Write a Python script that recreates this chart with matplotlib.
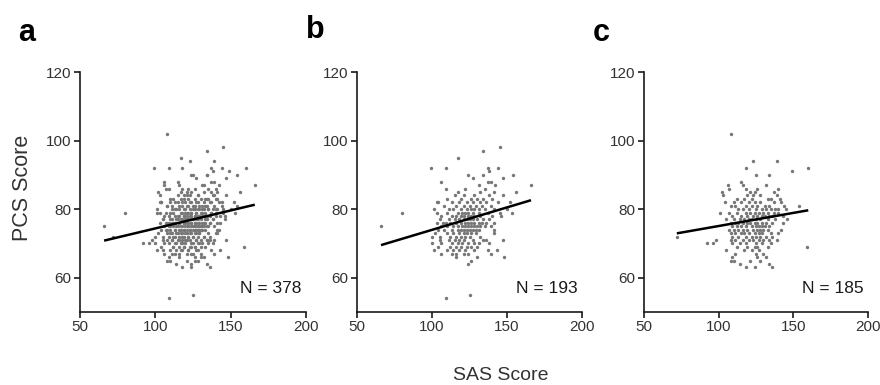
import matplotlib
matplotlib.use("Agg")
import matplotlib.pyplot as plt

plt.rcParams['font.family'] = ['Liberation Sans', 'DejaVu Sans']

# ---- data: PCS score (y) -> list of SAS scores (x) ----
rows_b = {
    98: [145], 97: [134], 95: [117], 92: [99, 109, 137, 144], 91: [138],
    90: [124, 134, 154], 89: [127, 147], 88: [106, 137, 139], 87: [166, 131, 142],
    86: [109, 122, 135], 85: [117, 132, 156, 141], 84: [115, 121, 128, 138, 147],
    83: [110, 119, 126, 130, 134, 140],
    82: [103, 104, 113, 118, 123, 127, 132, 136, 144, 152],
    81: [108, 116, 121, 125, 129, 133, 139],
    80: [101, 111, 114, 119, 123, 126, 128, 131, 135, 141, 150],
    79: [80, 103, 110, 117, 120, 122, 124, 127, 131, 137, 145, 153],
    78: [106, 113, 116, 119, 121, 124, 126, 128, 132, 140, 146],
    77: [105, 111, 115, 118, 121, 123, 125, 127, 130, 134, 138],
    76: [103, 107, 109, 112, 116, 119, 122, 124, 126, 128, 131, 133, 136, 141],
    75: [66, 106, 110, 114, 117, 120, 122, 124, 126, 128, 130, 132, 135, 139],
    74: [104, 108, 113, 117, 119, 121, 123, 125, 127, 129, 131, 141],
    73: [102, 110, 114, 118, 121, 123, 126, 129, 141],
    72: [100, 105, 112, 116, 119, 122, 125, 132],
    71: [105, 111, 115, 118, 121, 127, 134, 136, 147],
    70: [100, 106, 113, 117, 120, 124, 128, 131, 138],
    69: [104, 112, 116, 119, 123, 126, 130],
    68: [101, 110, 114, 118, 122, 128, 137, 143],
    67: [106, 113, 116, 121, 124, 139],
    66: [116, 130, 148], 65: [126], 64: [124], 55: [125], 54: [109],
}

rows_c = {
    102: [108], 94: [123, 139], 92: [118, 160], 91: [149], 90: [125, 134],
    88: [115], 87: [106, 116, 132], 86: [107, 118, 126, 140],
    85: [102, 121, 124, 137], 84: [103, 119, 123, 128, 139],
    83: [112, 117, 122, 133, 135, 141],
    82: [104, 110, 115, 120, 124, 128, 137, 142],
    81: [108, 111, 118, 122, 126, 131, 134, 144, 154],
    80: [113, 116, 120, 125, 129, 132, 135, 138, 140, 145],
    79: [101, 107, 112, 118, 121, 124, 127, 130, 133, 137, 140],
    78: [109, 115, 119, 123, 126, 129, 131, 134, 136, 143],
    77: [105, 110, 114, 117, 120, 122, 125, 128, 133, 138, 146],
    76: [108, 111, 113, 116, 119, 121, 124, 126, 129, 132, 136, 143],
    75: [109, 112, 115, 118, 122, 125, 127, 129, 131, 134],
    74: [107, 110, 113, 116, 119, 123, 126, 128, 130, 133, 142],
    73: [108, 111, 115, 117, 120, 124, 127, 129, 135, 140],
    72: [72, 109, 113, 118, 122, 125, 128, 132, 136],
    71: [98, 108, 111, 116, 120, 123, 127, 130, 134, 139],
    70: [92, 96, 109, 114, 118, 125, 129, 135],
    69: [112, 119, 124, 126, 133, 159],
    68: [105, 117, 122, 127], 67: [111, 125, 130], 66: [109, 126, 132],
    65: [108, 110, 121, 128], 64: [114, 134], 63: [118, 124, 136],
}


def flatten(rows):
    xs, ys = [], []
    for y, xl in rows.items():
        for x in xl:
            xs.append(x)
            ys.append(y)
    return xs, ys


b_x, b_y = flatten(rows_b)
c_x, c_y = flatten(rows_c)
a_x = b_x + c_x
a_y = b_y + c_y

# regression lines (intercept, slope)
fit_a = (63.9, 0.1048)
fit_b = (60.86, 0.131)
fit_c = (67.43, 0.0765)

letters = ['a', 'b', 'c']
n_labels = ['N = 378', 'N = 193', 'N = 185']
x_ticks = [50, 100, 150, 200]
y_ticks = [60, 80, 100, 120]

W, H = 880, 385
fig = plt.figure(figsize=(W / 100, H / 100), dpi=100)

lefts = [80, 357, 644]
widths = [226, 225, 224]
top_px, bot_px = 72, 312
letter_pos = [(27, 33), (315, 30), (601, 33)]

txt_col = '#333333'
datasets = [(a_x, a_y, fit_a), (b_x, b_y, fit_b), (c_x, c_y, fit_c)]

for i, (xs, ys, fit) in enumerate(datasets):
    ax = fig.add_axes([lefts[i] / W, 1 - bot_px / H, widths[i] / W, (bot_px - top_px) / H])
    ax.scatter(xs, ys, s=6, marker='o', color='#777777', linewidths=0, zorder=2)
    x0, x1 = min(xs), max(xs)
    ax.plot([x0, x1], [fit[0] + fit[1] * x0, fit[0] + fit[1] * x1],
            color='black', lw=1.8, zorder=3, solid_capstyle='butt')
    ax.set_xlim(50, 200)
    ax.set_ylim(50, 120)
    ax.set_xticks(x_ticks)
    ax.set_yticks(y_ticks)
    for s in ['top', 'right']:
        ax.spines[s].set_visible(False)
    for s in ['left', 'bottom']:
        ax.spines[s].set_linewidth(1.2)
        ax.spines[s].set_color('#1a1a1a')
    ax.tick_params(direction='out', length=4, width=1.2, color='#1a1a1a',
                   labelsize=11, labelcolor=txt_col, pad=2)
    ax.text(197, 55.6, n_labels[i], ha='right', va='baseline', fontsize=12.5, color='#1a1a1a')
    fig.text(letter_pos[i][0] / W, 1 - letter_pos[i][1] / H, letters[i],
             fontsize=22, fontweight='bold', ha='center', va='center', color='black')

fig.text(23 / W, 1 - 188 / H, 'PCS Score', rotation=90, ha='center', va='center',
         fontsize=15.5, color=txt_col)
fig.text(501 / W, 1 - 375 / H, 'SAS Score', ha='center', va='center',
         fontsize=14, color=txt_col)

fig.savefig('out.png', dpi=100)
